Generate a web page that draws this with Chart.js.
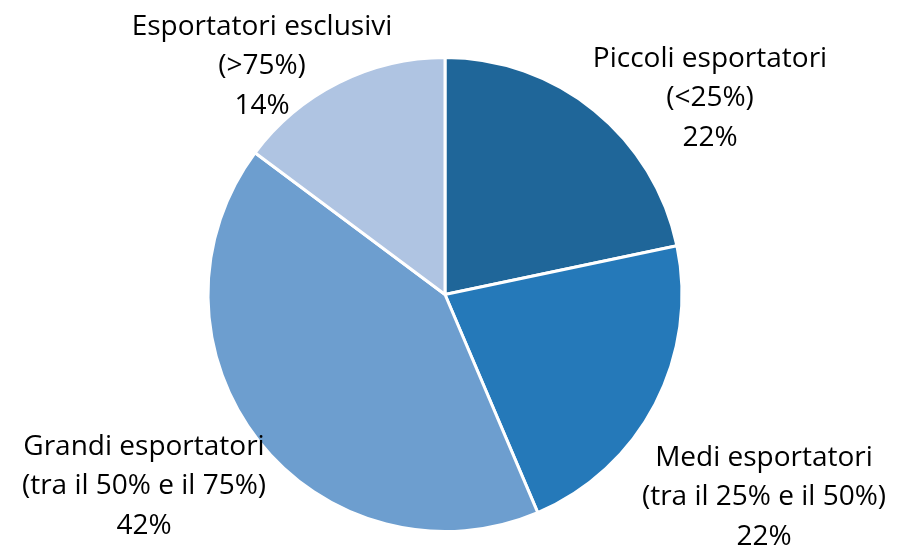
<!DOCTYPE html>
<html>
<head>
<meta charset="utf-8">
<script src="https://cdn.jsdelivr.net/npm/chart.js@4"></script>
<style>
html,body{margin:0;padding:0;background:#fff;}
#wrap{width:897px;height:548px;position:relative;}
</style>
</head>
<body>
<div id="wrap"><canvas id="c" width="897" height="548"></canvas></div>
<script>
const categories = ['Piccoli esportatori', 'Medi esportatori', 'Grandi esportatori', 'Esportatori esclusivi'];
const subLabels = ['(<25%)', '(tra il 25% e il 50%)', '(tra il 50% e il 75%)', '(>75%)'];
const shareValues = [21.7, 21.9, 41.6, 14.8];
const pctLabels = ['22%', '22%', '42%', '14%'];
const sliceColors = ['#1f6699', '#2579b9', '#6d9ecf', '#afc4e2'];

// label anchor offsets (px) of the middle text line from the pie centre — layout only
const labelOffsets = [[265, -196], [319, 203], [-301, 192], [-183, -228]];

const FONT_FAMILY = '"Open Sans", Lato, sans-serif';

const outsideLabels = {
  id: 'outsideLabels',
  afterDraw(chart) {
    const ctx = chart.ctx;
    const meta = chart.getDatasetMeta(0);
    ctx.save();
    ctx.fillStyle = '#000';
    ctx.textAlign = 'center';
    ctx.textBaseline = 'middle';
    ctx.font = '28px ' + FONT_FAMILY;
    meta.data.forEach((arc, i) => {
      const cx = arc.x, cy = arc.y;
      const [dx, dy] = labelOffsets[i];
      const lines = [chart.data.labels[i], subLabels[i], pctLabels[i]];
      const lh = 39.5;
      lines.forEach((t, k) => {
        ctx.fillText(t, cx + dx, cy + dy + (k - 1) * lh);
      });
    });
    ctx.restore();
  }
};

new Chart(document.getElementById('c'), {
  type: 'pie',
  data: {
    labels: categories,
    datasets: [{
      data: shareValues,
      backgroundColor: sliceColors,
      borderColor: '#ffffff',
      borderWidth: 3
    }]
  },
  options: {
    responsive: false,
    animation: false,
    layout: { padding: { top: 56, bottom: 15, left: 0, right: 7 } },
    plugins: {
      legend: { display: false },
      tooltip: { enabled: false }
    }
  },
  plugins: [outsideLabels]
});
</script>
</body>
</html>
